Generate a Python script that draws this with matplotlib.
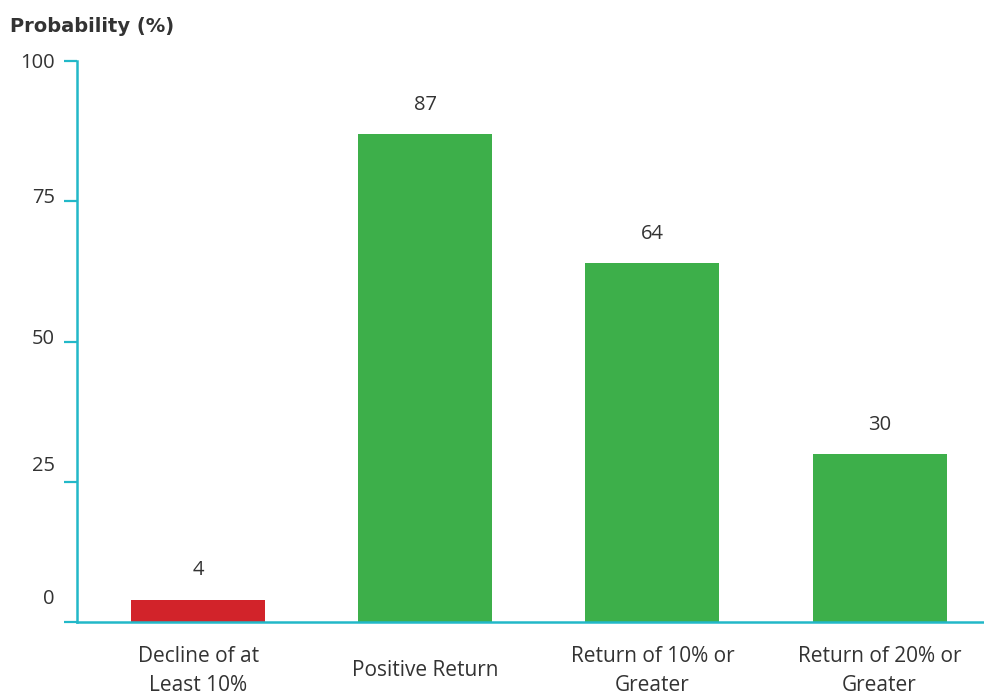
import matplotlib.pyplot as plt
import matplotlib.transforms as mtransforms

categories = ["Decline of at\nLeast 10%", "Positive Return", "Return of 10% or\nGreater", "Return of 20% or\nGreater"]
values = [4, 87, 64, 30]
colors = ["#d2232a", "#3daf4a", "#3daf4a", "#3daf4a"]
yticks = [0, 25, 50, 75, 100]
# the source nudges some y labels upward (pixels)
ytick_shift = [25, 18, 5, 6, 0]

teal = "#22b8c8"
txt = "#333333"
plt.rcParams['font.family'] = ['Open Sans', 'DejaVu Sans']

fig = plt.figure(figsize=(9.84, 6.96), dpi=100)
ax = fig.add_axes([77 / 984, 74 / 696, 1 - 77 / 984, (622 - 61) / 696])

x = list(range(len(categories)))
ax.bar(x, values, width=0.59, color=colors, zorder=2)
for xi, v in zip(x, values):
    ax.annotate(str(v), (xi, v), xytext=(0, 21), textcoords='offset points',
                ha='center', va='center', fontsize=14.5, color=txt)

ax.set_xlim(-0.533, 3.46)
ax.set_ylim(0, 100)
ax.set_yticks(yticks)
ax.set_xticks(x)
ax.set_xticklabels(categories, va='center', linespacing=1.5)

for s in ['top', 'right']:
    ax.spines[s].set_visible(False)
for s in ['left', 'bottom']:
    ax.spines[s].set_color(teal)
    ax.spines[s].set_linewidth(1.8)
ax.spines['bottom'].set_zorder(3)

ax.tick_params(axis='y', length=9.4, width=1.6, color=teal, pad=6.5, labelsize=14.5, labelcolor=txt)
ax.tick_params(axis='x', length=0, pad=35, labelsize=15, labelcolor=txt)

for lab, sh in zip(ax.get_yticklabels(), ytick_shift):
    lab.set_transform(lab.get_transform() + mtransforms.ScaledTranslation(0, sh / 100, fig.dpi_scale_trans))

fig.text(10 / 984, 1 - 27 / 696, "Probability (%)", ha='left', va='center', fontsize=14,
         fontweight='bold', color=txt,
         family=['Liberation Sans Narrow', 'DejaVu Sans Condensed', 'DejaVu Sans'])

fig.savefig("out.png", dpi=100)
